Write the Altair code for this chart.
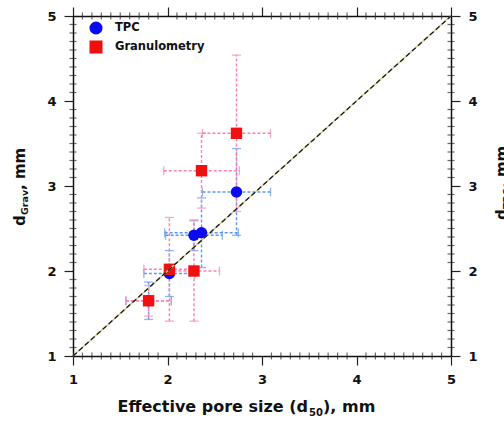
import altair as alt
import pandas as pd

# ---------------- data ----------------
series_names = ["TPC", "Granulometry"]

tpc_x = [1.80, 2.02, 2.28, 2.36, 2.73]
tpc_y = [1.65, 1.97, 2.42, 2.45, 2.93]
tpc_xerr = [0.24, 0.27, 0.30, 0.39, 0.36]
tpc_yerr = [0.22, 0.27, 0.18, 0.41, 0.51]

gran_x = [1.80, 2.02, 2.28, 2.36, 2.73]
gran_y = [1.65, 2.02, 2.00, 3.18, 3.62]
gran_xerr = [0.24, 0.27, 0.27, 0.40, 0.36]
gran_yerr = [0.18, 0.61, 0.59, 0.44, 0.92]

axis_range = [1, 5]
major_ticks = [1, 2, 3, 4, 5]
minor_ticks = [round(1 + 0.1 * i, 1) for i in range(41) if i % 10 != 0]

point_colors = ["#0a0af0", "#f01010"]
bar_colors = ["#5a98f2", "#ff7fb4"]
FONT = "DejaVu Sans"
W, H = 378, 340


def make_df(name, xs, ys, xe, ye):
    return pd.DataFrame({
        "series": name,
        "x": xs, "y": ys,
        "xlo": [a - b for a, b in zip(xs, xe)],
        "xhi": [a + b for a, b in zip(xs, xe)],
        "ylo": [a - b for a, b in zip(ys, ye)],
        "yhi": [a + b for a, b in zip(ys, ye)],
    })


df = pd.concat([
    make_df("TPC", tpc_x, tpc_y, tpc_xerr, tpc_yerr),
    make_df("Granulometry", gran_x, gran_y, gran_xerr, gran_yerr),
], ignore_index=True)

diag = pd.DataFrame({"x": axis_range, "y": axis_range})
minor_df = pd.DataFrame({"v": minor_ticks, "lo": axis_range[0], "hi": axis_range[1]})

xs = alt.Scale(domain=axis_range, nice=False, zero=False)
ys = alt.Scale(domain=axis_range, nice=False, zero=False)


def mk_axis(orient, labels=True):
    return alt.Axis(
        orient=orient, values=major_ticks, title=None, grid=False,
        labels=labels, format="d",
        labelOverlap=False, labelFlush=False, labelBound=False,
        tickSize=9, tickColor="#222", tickWidth=1.2,
        domainColor="#111", domainWidth=1.5,
        labelFont=FONT, labelFontSize=13, labelFontWeight="bold",
        labelColor="#111", labelPadding=8,
    )


layers = []

# minor ticks on all four sides (centred on the axis lines, through the shared scales)
mt = alt.Chart(minor_df)
tk = dict(color="#2a2a2a", thickness=1.2, size=7, clip=False)
layers += [
    mt.mark_tick(orient="vertical", **tk).encode(
        x=alt.X("v:Q", scale=xs, axis=None), y=alt.Y("lo:Q", scale=ys, axis=None)),
    mt.mark_tick(orient="vertical", **tk).encode(
        x=alt.X("v:Q", scale=xs, axis=None), y=alt.Y("hi:Q", scale=ys, axis=None)),
    mt.mark_tick(orient="horizontal", **tk).encode(
        y=alt.Y("v:Q", scale=ys, axis=None), x=alt.X("lo:Q", scale=xs, axis=None)),
    mt.mark_tick(orient="horizontal", **tk).encode(
        y=alt.Y("v:Q", scale=ys, axis=None), x=alt.X("hi:Q", scale=xs, axis=None)),
]

# error bars
for name, col in zip(series_names, bar_colors):
    sub = alt.Chart(df).transform_filter(alt.datum.series == name)
    rule_kw = dict(color=col, strokeDash=[3, 2], strokeWidth=1.4)
    layers.append(sub.mark_rule(**rule_kw).encode(
        x=alt.X("xlo:Q", scale=xs, axis=None), x2="xhi:Q",
        y=alt.Y("y:Q", scale=ys, axis=None)))
    layers.append(sub.mark_rule(**rule_kw).encode(
        x=alt.X("x:Q", scale=xs, axis=None),
        y=alt.Y("ylo:Q", scale=ys, axis=None), y2="yhi:Q"))
    for f in ["xlo", "xhi"]:
        layers.append(sub.mark_tick(orient="vertical", size=9, thickness=1.3, color=col).encode(
            x=alt.X(f"{f}:Q", scale=xs, axis=None),
            y=alt.Y("y:Q", scale=ys, axis=None)))
    for f in ["ylo", "yhi"]:
        layers.append(sub.mark_tick(orient="horizontal", size=9, thickness=1.3, color=col).encode(
            x=alt.X("x:Q", scale=xs, axis=None),
            y=alt.Y(f"{f}:Q", scale=ys, axis=None)))

legend = alt.Legend(
    title=None, orient="none", legendX=16, legendY=5,
    labelFont=FONT, labelFontSize=11.5, labelFontWeight="bold", labelColor="#111",
    symbolSize=170, symbolStrokeWidth=0, rowPadding=5, labelOffset=12,
)

points = alt.Chart(df).mark_point(filled=True, opacity=1, size=130).encode(
    x=alt.X("x:Q", scale=xs, axis=mk_axis("top", labels=False)),
    y=alt.Y("y:Q", scale=ys, axis=mk_axis("right")),
    color=alt.Color("series:N", scale=alt.Scale(domain=series_names, range=point_colors), legend=legend),
    shape=alt.Shape("series:N", scale=alt.Scale(domain=series_names, range=["circle", "square"]), legend=legend),
)
layers.append(points)

# 1:1 line
layers.append(alt.Chart(diag).mark_line(color="#d2cc86", strokeWidth=1.5).encode(
    x=alt.X("x:Q", scale=xs, axis=mk_axis("bottom")),
    y=alt.Y("y:Q", scale=ys, axis=mk_axis("left"))))
layers.append(alt.Chart(diag).mark_line(color="#1a1a1a", strokeWidth=1.3, strokeDash=[5, 3]).encode(
    x=alt.X("x:Q", scale=xs, axis=None),
    y=alt.Y("y:Q", scale=ys, axis=None)))

# axis titles (with subscripts)
one = pd.DataFrame({"a": [0]})


def txt(s, x, y, size, align="left", angle=0):
    return alt.Chart(one).mark_text(
        text=s, font=FONT, fontSize=size, fontWeight="bold", color="#111",
        align=align, baseline="alphabetic", angle=angle,
    ).encode(x=alt.value(x), y=alt.value(y))


layers += [
    txt("Effective pore size (d", 235, 396, 16, align="right"),
    txt("50", 236, 400, 10),
    txt("), mm", 250, 396, 16),
    txt("d", -48, 210, 15, angle=270),
    txt("Grav", -45, 199, 9.5, angle=270),
    txt(", mm", -48, 174, 15, angle=270),
    txt("d", 434, 204, 15, angle=270),
    txt("TPC", 437, 193, 9.5, angle=270),
    txt(", mm", 434, 172, 15, angle=270),
]

chart = alt.layer(*layers).resolve_axis(x="independent", y="independent").properties(
    width=W, height=H,
    autosize=alt.AutoSizeParams(type="none"),
    padding={"left": 73, "top": 16, "right": 53, "bottom": 65},
    background="white",
).configure_view(stroke=None)

chart.save("out.html", embed_options={"renderer": "svg", "actions": False})
